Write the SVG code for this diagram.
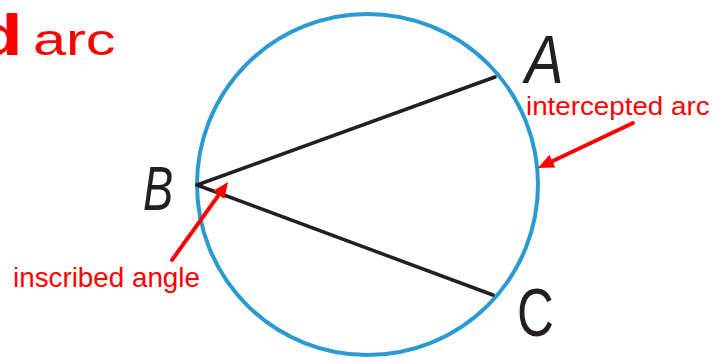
<svg xmlns="http://www.w3.org/2000/svg" width="728" height="361" viewBox="0 0 728 361">
  <style>
    .red { fill: #ff0000; font-family: "Liberation Sans", Arial, sans-serif; }
    .pt { fill: #231f20; font-family: "Liberation Sans", Arial, sans-serif; }
    .arrow { stroke: #ff0000; stroke-width: 4; fill: none; stroke-linecap: round; }
    .chord { stroke: #231f20; stroke-width: 3.5; stroke-linecap: round; }
  </style>
  <defs>
    <marker id="ah" markerUnits="userSpaceOnUse" markerWidth="18" markerHeight="16" refX="6" refY="7" orient="auto">
      <path d="M0,0 L16,7 L0,14 Z" fill="#ff0000"/>
    </marker>
  </defs>
  <rect width="728" height="361" fill="#ffffff"/>
  <g id="title">
    <text class="red" transform="translate(-25,55) scale(1.35,1)" font-size="58" font-weight="bold">d</text>
    <text class="red" transform="translate(33,55) scale(1.35,1)" font-size="44">arc</text>
  </g>
  <g id="circle">
    <circle cx="367.5" cy="184.5" r="170.5" fill="none" stroke="#2a9ad2" stroke-width="4"/>
  </g>
  <g id="chords">
    <line class="chord" x1="197" y1="185" x2="495" y2="77"/>
    <line class="chord" x1="197" y1="185" x2="493" y2="295"/>
  </g>
  <g id="label-A">
    <text class="pt" transform="translate(525,83) scale(0.85,1)" font-size="68" font-style="italic">A</text>
  </g>
  <g id="label-B">
    <text class="pt" transform="translate(143,210) scale(0.72,1)" font-size="63" font-style="italic">B</text>
  </g>
  <g id="label-C">
    <text class="pt" transform="translate(517,336) scale(0.75,1)" font-size="68">C</text>
  </g>
  <g id="intercepted-arc">
    <text class="red" transform="translate(526,115) scale(1.11,1)" font-size="25">intercepted arc</text>
  </g>
  <g id="inscribed-angle">
    <text class="red" transform="translate(13,287) scale(1.03,1)" font-size="27">inscribed angle</text>
  </g>
  <g id="connectors">
    <line class="arrow" x1="633" y1="123" x2="547" y2="163.7" marker-end="url(#ah)"/>
    <line class="arrow" x1="172" y1="260" x2="222.2" y2="190.1" marker-end="url(#ah)"/>
  </g>
</svg>
